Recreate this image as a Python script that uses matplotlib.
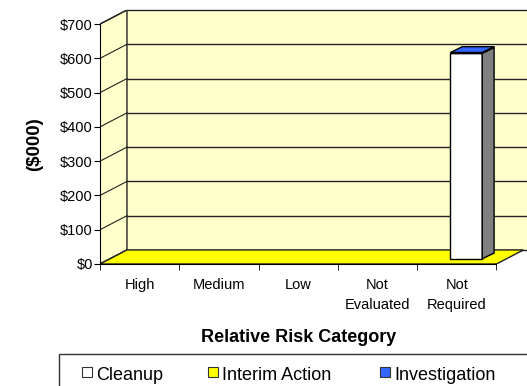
import numpy as np
import matplotlib.pyplot as plt
from matplotlib.patches import Polygon, Rectangle

plt.rcParams['font.family'] = ['Liberation Sans', 'DejaVu Sans']

categories = ['High', 'Medium', 'Low', 'Not\nEvaluated', 'Not\nRequired']
cleanup = [0, 0, 0, 0, 600]
interim = [0, 0, 0, 0, 0]
investigation = [0, 0, 0, 0, 2]
yticks = [0, 100, 200, 300, 400, 500, 600, 700]
series_names = ['Cleanup', 'Interim Action', 'Investigation']
series_colors = ['white', '#FFFF00', '#3366FF']

W, H = 527, 386
fig = plt.figure(figsize=(W / 100, H / 100), dpi=100)
ax = fig.add_axes([100 / W, 1 - 264 / H, 1 - 100 / W, (264 - 10) / H])
ax.set_xlim(-0.5, 4.885)
ax.set_ylim(0, 741)
ax.patch.set_visible(False)

# depth of the 3D box, in data units
dx, dy = 0.34, 41
x0, x1 = -0.5, 4.5
ymax = 700
wall = '#FFFFCC'

# back wall and left wall
ax.add_patch(Polygon([(x0 + dx, dy), (5.2, dy), (5.2, ymax + dy), (x0 + dx, ymax + dy)],
                     closed=True, facecolor=wall, edgecolor='none', zorder=0))
ax.add_patch(Polygon([(x0, 0), (x0 + dx, dy), (x0 + dx, ymax + dy), (x0, ymax)],
                     closed=True, facecolor=wall, edgecolor='#222222', lw=1, zorder=1))
for v in yticks:
    ax.plot([x0 + dx, 5.2], [v + dy, v + dy], color='#222222', lw=1, zorder=1, clip_on=False)
    ax.plot([x0, x0 + dx], [v, v + dy], color='#222222', lw=0.8, zorder=1)

# floor
ax.add_patch(Polygon([(x0, 0), (x1, 0), (x1 + dx, dy), (x0 + dx, dy)],
                     closed=True, facecolor='#FFFF00', edgecolor='#222222', lw=1, zorder=2))

# bars (stacked), placed partway into depth
x = np.arange(len(categories))
bw = 0.4
fx, fy = 0.12, 15          # front face offset inside the floor
sx, sy = 0.15, 17          # bar depth
bottom = np.zeros(len(categories))
for vals, col in zip([cleanup, interim, investigation], series_colors):
    vals = np.array(vals, dtype=float)
    for i in range(len(x)):
        if vals[i] <= 0:
            continue
        left = x[i] + fx - bw / 2
        b = bottom[i] + fy
        t = b + vals[i]
        ax.bar(x[i] + fx, vals[i], width=bw, bottom=b, color=col,
               edgecolor='black', lw=1, zorder=4)
        ax.add_patch(Polygon([(left + bw, b), (left + bw + sx, b + sy),
                              (left + bw + sx, t + sy), (left + bw, t)],
                             closed=True, facecolor='#808080', edgecolor='black', lw=1, zorder=4))
        ax.add_patch(Polygon([(left, t), (left + sx, t + sy), (left + bw + sx, t + sy), (left + bw, t)],
                             closed=True, facecolor=col if col != 'white' else '#3355BB',
                             edgecolor='black', lw=1, zorder=5))
    bottom += vals

# axes
for s in ['top', 'right']:
    ax.spines[s].set_visible(False)
ax.spines['left'].set_bounds(0, ymax)
ax.spines['bottom'].set_bounds(x0, x1)
ax.spines['left'].set_zorder(6)
ax.spines['bottom'].set_zorder(6)
ax.set_yticks(yticks)
ax.set_yticklabels(['$%d' % v for v in yticks], fontsize=10.5)
ax.set_xticks(np.arange(-0.5, 5, 1), minor=True)
ax.set_xticks(x)
ax.set_xticklabels(categories, fontsize=10.5, linespacing=1.6)
ax.tick_params(axis='x', which='major', length=0, pad=10)
ax.tick_params(axis='x', which='minor', length=4, direction='out')
ax.tick_params(axis='y', length=4, pad=1)

ax.set_ylabel('($000)', fontsize=13.5, fontweight='bold', va='center')
ax.yaxis.set_label_coords(-65 / 427, 350 / 741)
ax.set_xlabel('Relative Risk Category', fontsize=13, fontweight='bold', va='center')
ax.xaxis.set_label_coords(2.5 / 5.385, -(338 - 264) / 254)

# legend box
fig.patches.append(Rectangle((59 / W, -0.1), 1, 1 - 354 / H + 0.1, transform=fig.transFigure,
                             facecolor='white', edgecolor='#333333', lw=1))
lx = [82, 208, 380]
for px, name, col in zip(lx, series_names, series_colors):
    fig.patches.append(Rectangle((px / W, 1 - 377 / H), 10 / W, 10 / H, transform=fig.transFigure,
                                 facecolor=col, edgecolor='#333333', lw=0.8))
    fig.text((px + 14) / W, 1 - 376 / H, name, fontsize=13, va='center', ha='left')

fig.savefig('out.png', dpi=100)
